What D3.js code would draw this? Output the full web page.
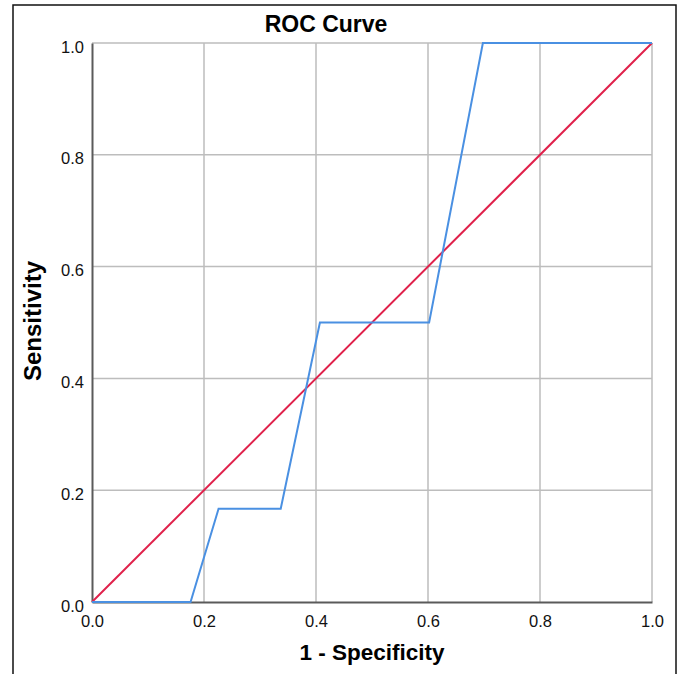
<!DOCTYPE html>
<html>
<head>
<meta charset="utf-8">
<script src="https://cdn.jsdelivr.net/npm/d3@7"></script>
<style>
  body { margin: 0; background: #fff; }
  svg { display: block; font-family: "Liberation Sans", Arial, sans-serif; }
</style>
</head>
<body>
<div id="chart"></div>
<script>
// ROC curve points (1 - specificity, sensitivity)
const fpr = [0, 0.176, 0.226, 0.337, 0.407, 0.602, 0.698, 1.0];
const tpr = [0, 0, 0.1667, 0.1667, 0.5, 0.5, 1.0, 1.0];

// reference diagonal
const refX = [0, 1];
const refY = [0, 1];

const ticks = [0, 0.2, 0.4, 0.6, 0.8, 1.0];

const margin = { top: 43, right: 28, bottom: 72, left: 92 },
  width = 680 - margin.left - margin.right,
  height = 674 - margin.top - margin.bottom;

const svg = d3.select("#chart").append("svg")
  .attr("width", 680)
  .attr("height", 674);

// outer frame
svg.append("rect")
  .attr("x", 13).attr("y", 5)
  .attr("width", 663).attr("height", 690)
  .attr("fill", "none")
  .attr("stroke", "#111")
  .attr("stroke-width", 1.5);

const g = svg.append("g")
  .attr("transform", `translate(${margin.left},${margin.top})`);

const x = d3.scaleLinear().domain([0, 1]).range([0, width]);
const y = d3.scaleLinear().domain([0, 1]).range([height, 0]);

// gridlines
g.append("g").selectAll("line")
  .data(ticks.slice(1))
  .enter().append("line")
  .attr("x1", d => x(d)).attr("x2", d => x(d))
  .attr("y1", 0).attr("y2", height)
  .attr("stroke", "#bdbdbd").attr("stroke-width", 1.5);

g.append("g").selectAll("line")
  .data(ticks.slice(1))
  .enter().append("line")
  .attr("x1", 0).attr("x2", width)
  .attr("y1", d => y(d)).attr("y2", d => y(d))
  .attr("stroke", "#bdbdbd").attr("stroke-width", 1.5);

// axes
const xAxis = g.append("g")
  .attr("transform", `translate(0,${height})`)
  .call(d3.axisBottom(x).tickValues(ticks).tickFormat(d3.format(".1f")).tickSize(0).tickPadding(0));
xAxis.select(".domain").attr("stroke", "#5a5a5a").attr("stroke-width", 2);
xAxis.selectAll("text")
  .attr("y", 24.5).attr("dy", 0)
  .style("font-size", "16.5px").attr("fill", "#111");

const yAxis = g.append("g")
  .call(d3.axisLeft(y).tickValues(ticks).tickFormat(d3.format(".1f")).tickSize(0).tickPadding(8));
yAxis.select(".domain").attr("stroke", "#5a5a5a").attr("stroke-width", 2);
yAxis.selectAll("text")
  .attr("dy", "0.55em")
  .style("font-size", "16.5px").attr("fill", "#111");

const line = d3.line()
  .x(d => x(d[0]))
  .y(d => y(d[1]));

// diagonal reference line
g.append("path")
  .datum(d3.zip(refX, refY))
  .attr("d", line)
  .attr("fill", "none")
  .attr("stroke", "#e0214b")
  .attr("stroke-width", 2);

// ROC curve
g.append("path")
  .datum(d3.zip(fpr, tpr))
  .attr("d", line)
  .attr("fill", "none")
  .attr("stroke", "#4a90e2")
  .attr("stroke-width", 2);

// title
svg.append("text")
  .attr("x", 326).attr("y", 32)
  .attr("text-anchor", "middle")
  .style("font-size", "23px").style("font-weight", "bold")
  .text("ROC Curve");

// axis titles
svg.append("text")
  .attr("x", 372).attr("y", 660)
  .attr("text-anchor", "middle")
  .style("font-size", "22.5px").style("font-weight", "bold")
  .text("1 - Specificity");

svg.append("text")
  .attr("transform", "translate(41,321) rotate(-90)")
  .attr("text-anchor", "middle")
  .style("font-size", "24px").style("font-weight", "bold")
  .text("Sensitivity");
</script>
</body>
</html>
